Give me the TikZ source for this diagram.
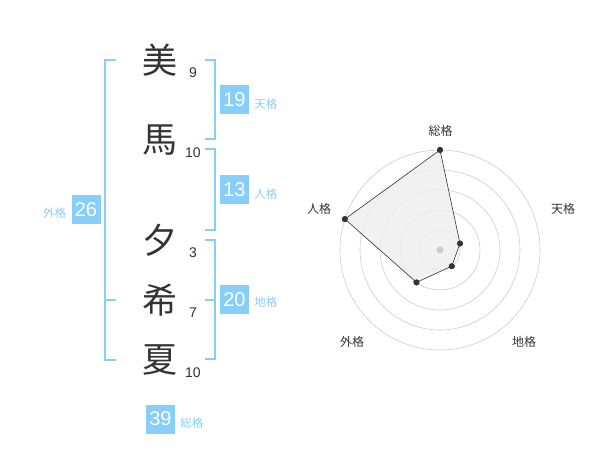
\documentclass[tikz,border=0pt]{standalone}
\usepackage{fontspec}
\setmainfont{Liberation Sans}
\newfontfamily\jp{Noto Sans CJK JP}
\usetikzlibrary{calc}
\definecolor{sky}{HTML}{87CEFA}
\definecolor{ink}{HTML}{333333}
\begin{document}
\begin{tikzpicture}[x=1pt,y=-1pt,
 kanji/.style={font=\jp\fontsize{35}{35}\selectfont, text=ink, inner sep=0},
 strokes/.style={font=\fontsize{14}{14}\selectfont, text=ink, inner sep=0},
 numbox/.style={fill=sky, text=white, minimum width=29pt, minimum height=29pt, inner sep=0, font=\fontsize{20}{20}\selectfont},
 kaku/.style={font=\jp\fontsize{11.5}{11.5}\selectfont, text=sky, inner sep=0},
 brk/.style={draw=sky, line width=1.8pt},
 ring/.style={draw=black!20, line width=0.6pt},
 axlbl/.style={font=\jp\fontsize{12}{12}\selectfont, text=ink, inner sep=0},
 dot/.style={circle, fill=ink, inner sep=0, minimum size=6pt},
 hub/.style={circle, fill=black!20, inner sep=0, minimum size=7pt}]
\useasboundingbox (0,0) rectangle (600,470);

% characters
\node[kanji] (k1) at (160,60) {美};
\node[kanji] (k2) at (160,140) {馬};
\node[kanji] (k3) at (160,240) {夕};
\node[kanji] (k4) at (160,300) {希};
\node[kanji] (k5) at (160,360) {夏};
\node[strokes] (s1) at (193,73) {9};
\node[strokes] (s2) at (193,153) {10};
\node[strokes] (s3) at (193,253) {3};
\node[strokes] (s4) at (193,313) {7};
\node[strokes] (s5) at (193,373) {10};

% brackets
\draw[brk] (116,60) -- (105,60) -- (105,360) -- (116,360);
\draw[brk] (105,300) -- (116,300);
\draw[brk] (205,60) -- (215,60) -- (215,139) -- (205,139);
\draw[brk] (205,149) -- (215,149) -- (215,230) -- (205,230);
\draw[brk] (205,240) -- (215,240) -- (215,359) -- (205,359);
\draw[brk] (205,300) -- (215,300);

% boxes
\node[numbox] (b1) at (234.5,100) {19};
\node[kaku, anchor=west] (l1) at ($(b1.east)+(5,4)$) {天格};
\node[numbox] (b2) at (234.5,190) {13};
\node[kaku, anchor=west] (l2) at ($(b2.east)+(5,4)$) {人格};
\node[numbox] (b3) at (234.5,300) {20};
\node[kaku, anchor=west] (l3) at ($(b3.east)+(5,2)$) {地格};
\node[numbox] (b4) at (86,210) {26};
\node[kaku, anchor=east] (l4) at ($(b4.west)+(-5,3)$) {外格};
\node[numbox] (b5) at (160.5,419) {39};
\node[kaku, anchor=west] (l5) at ($(b5.east)+(5,4)$) {総格};

% radar
\coordinate (c) at (440,250);
\foreach \r in {20,40,60,80,100} \draw[ring] (c) circle[radius=\r pt];
\node[dot] (p1) at ($(c)+(-90:100)$) {};
\node[dot] (p2) at ($(c)+(-18:21)$) {};
\node[dot] (p3) at ($(c)+(54:20)$) {};
\node[dot] (p4) at ($(c)+(126:40)$) {};
\node[dot] (p5) at ($(c)+(198:100)$) {};
\filldraw[fill=black!7, fill opacity=0.8, draw=ink, line width=0.6pt]
  (p1.center) -- (p2.center) -- (p3.center) -- (p4.center) -- (p5.center) -- cycle;
\foreach \p in {p1,p2,p3,p4,p5} \fill[ink] (\p) circle[radius=3pt];
\node[hub] (h) at (c) {};
\node[axlbl] (a1) at (440.5,131) {総格};
\node[axlbl] (a2) at (563,209) {天格};
\node[axlbl] (a3) at (319,209) {人格};
\node[axlbl] (a4) at (352,342) {外格};
\node[axlbl] (a5) at (524,342) {地格};
\end{tikzpicture}
\end{document}
